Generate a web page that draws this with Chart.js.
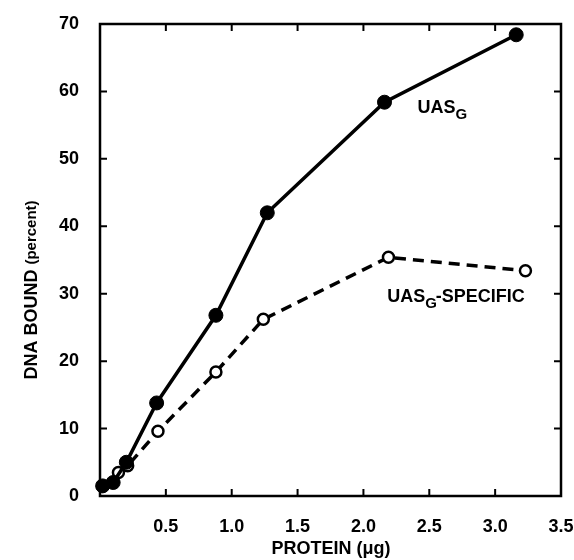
<!DOCTYPE html>
<html>
<head>
<meta charset="utf-8">
<script src="https://cdn.jsdelivr.net/npm/chart.js@4/dist/chart.umd.min.js"></script>
<style>
html,body{margin:0;padding:0;background:#fff;}
#wrap{width:574px;height:560px;position:relative;}
</style>
</head>
<body>
<div id="wrap"><canvas id="c" width="574" height="560"></canvas></div>
<script>
// Data
const proteinTotal = [0.02, 0.10, 0.20, 0.43, 0.88, 1.27, 2.16, 3.16];
const boundTotal   = [1.5, 2.0, 5.0, 13.8, 26.8, 42.0, 58.4, 68.4];
const proteinSpecific = [0.02, 0.14, 0.21, 0.44, 0.88, 1.24, 2.19, 3.23];
const boundSpecific   = [1.5, 3.5, 4.5, 9.6, 18.4, 26.2, 35.4, 33.4];
const xTicks = [0.5, 1.0, 1.5, 2.0, 2.5, 3.0, 3.5];
const yTicks = [0, 10, 20, 30, 40, 50, 60, 70];
const seriesNames = ["UAS", "UAS"];

const FONT = "'Liberation Sans', Arial, Helvetica, sans-serif";
const NARROW = "'Liberation Sans Narrow', 'Liberation Sans', Arial, sans-serif";

const framePlugin = {
  id: 'frame',
  afterDraw(chart) {
    const ctx = chart.ctx;
    const a = chart.chartArea;
    const xs = chart.scales.x, ys = chart.scales.y;
    ctx.save();
    ctx.strokeStyle = '#000';
    ctx.lineWidth = 2.5;
    ctx.strokeRect(a.left, a.top, a.right - a.left, a.bottom - a.top);
    ctx.lineWidth = 2;
    const t = 7;
    xTicks.forEach(v => {
      if (v >= 3.5) return;
      const px = xs.getPixelForValue(v);
      ctx.beginPath();
      ctx.moveTo(px, a.bottom); ctx.lineTo(px, a.bottom - t);
      ctx.moveTo(px, a.top); ctx.lineTo(px, a.top + t);
      ctx.stroke();
    });
    yTicks.forEach(v => {
      if (v <= 0 || v >= 70) return;
      const py = ys.getPixelForValue(v);
      ctx.beginPath();
      ctx.moveTo(a.left, py); ctx.lineTo(a.left + t, py);
      ctx.moveTo(a.right, py); ctx.lineTo(a.right - t, py);
      ctx.stroke();
    });
    // Axis titles
    ctx.fillStyle = '#000';
    ctx.textBaseline = 'middle';
    ctx.textAlign = 'center';
    ctx.font = 'bold 18px ' + FONT;
    ctx.fillText('PROTEIN (\u03bcg)', 331, 549);
    ctx.save();
    ctx.translate(32, 290);
    ctx.rotate(-Math.PI / 2);
    ctx.font = 'bold 18px ' + FONT;
    const p1 = 'DNA BOUND ';
    const w1 = ctx.measureText(p1).width;
    ctx.font = 'bold 15px ' + FONT;
    const p2 = '(percent)';
    const w2 = ctx.measureText(p2).width;
    let sx = -(w1 + w2) / 2;
    ctx.textAlign = 'left';
    ctx.font = 'bold 18px ' + FONT;
    ctx.fillText(p1, sx, 0);
    ctx.font = 'bold 15px ' + FONT;
    ctx.fillText(p2, sx + w1, 0);
    ctx.restore();
    // Series labels
    function label(x, y, main, sub, tail) {
      ctx.textAlign = 'left';
      ctx.textBaseline = 'alphabetic';
      ctx.font = 'bold 18px ' + NARROW;
      ctx.fillText(main, x, y);
      let w = ctx.measureText(main).width;
      ctx.font = 'bold 15px ' + NARROW;
      ctx.fillText(sub, x + w, y + 6);
      w += ctx.measureText(sub).width;
      if (tail) {
        ctx.font = 'bold 18px ' + NARROW;
        ctx.fillText(tail, x + w - 1, y);
      }
    }
    label(xs.getPixelForValue(2.41), ys.getPixelForValue(56.8), seriesNames[0], 'G', '');
    label(xs.getPixelForValue(2.18), ys.getPixelForValue(28.8), seriesNames[1], 'G', '-SPECIFIC');
    ctx.restore();
  }
};

new Chart(document.getElementById('c'), {
  type: 'scatter',
  data: {
    datasets: [
      {
        label: 'UASG',
        data: proteinTotal.map((x, i) => ({x, y: boundTotal[i]})),
        showLine: true,
        borderColor: '#000',
        borderWidth: 3.5,
        pointRadius: 7,
        pointBackgroundColor: '#000',
        pointBorderColor: '#000',
        pointBorderWidth: 1,
        clip: false
      },
      {
        label: 'UASG-SPECIFIC',
        data: proteinSpecific.map((x, i) => ({x, y: boundSpecific[i]})),
        showLine: true,
        borderColor: '#000',
        borderWidth: 3.5,
        borderDash: [11, 7],
        pointRadius: 5.5,
        pointBackgroundColor: '#fff',
        pointBorderColor: '#000',
        pointBorderWidth: 2.5,
        clip: false
      }
    ]
  },
  options: {
    responsive: false,
    animation: false,
    layout: { padding: { top: 24, right: 13, left: 0, bottom: 0 } },
    plugins: { legend: { display: false }, tooltip: { enabled: false } },
    scales: {
      x: {
        type: 'linear',
        min: 0, max: 3.5,
        afterBuildTicks(s) { s.ticks = xTicks.map(v => ({value: v})); },
        afterFit(s) { s.height = 64; s.paddingRight = 0; s.paddingLeft = 0; },
        grid: { display: false },
        border: { display: false },
        ticks: {
          color: '#000',
          font: { family: FONT, size: 18, weight: 'bold' },
          padding: 12,
          maxRotation: 0,
          callback: v => v.toFixed(1)
        }
      },
      y: {
        type: 'linear',
        min: 0, max: 70,
        afterBuildTicks(s) { s.ticks = yTicks.map(v => ({value: v})); },
        afterFit(s) { s.width = 100; s.paddingTop = 0; s.paddingBottom = 0; },
        grid: { display: false },
        border: { display: false },
        ticks: {
          color: '#000',
          font: { family: FONT, size: 18, weight: 'bold' },
          padding: 13,
          callback: v => String(v)
        }
      }
    }
  },
  plugins: [framePlugin]
});
</script>
</body>
</html>
